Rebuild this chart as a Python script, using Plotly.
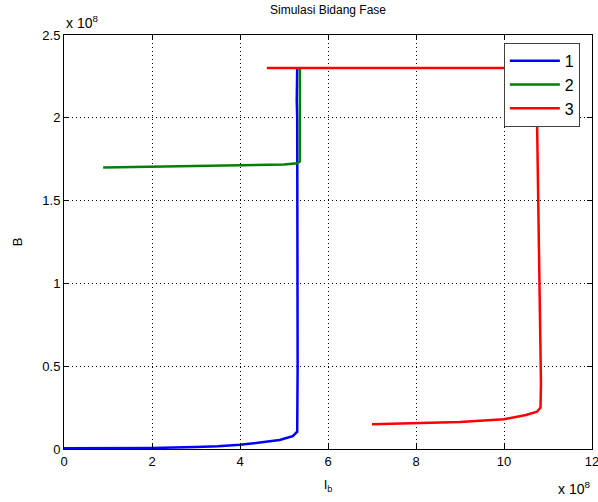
import plotly.graph_objects as go

# values in units of 1e8
blue_x = [0, 2, 3, 3.5, 4, 4.45, 4.9, 5.2, 5.3, 5.31, 5.31, 5.30, 5.29, 5.30, 5.30]
blue_y = [0.004, 0.006, 0.012, 0.016, 0.025, 0.038, 0.054, 0.078, 0.105, 0.5, 1.5, 2.0, 2.1, 2.2, 2.3]

green_x = [0.89, 2, 3, 4, 5, 5.3, 5.36, 5.36, 5.35, 5.36, 5.36]
green_y = [1.70, 1.705, 1.708, 1.712, 1.718, 1.725, 1.735, 1.9, 2.1, 2.2, 2.3]

red_x = [7.0, 8, 9, 10, 10.5, 10.75, 10.83, 10.84, 10.8, 10.77, 10.75, 10.75, 4.61]
red_y = [0.15, 0.155, 0.163, 0.18, 0.205, 0.225, 0.25, 0.4, 1.0, 1.6, 2.0, 2.3, 2.3]

x_ticks = [0, 2, 4, 6, 8, 10, 12]
y_ticks = [0, 0.5, 1, 1.5, 2, 2.5]
x_ticktext = ["0", "2", "4", "6", "8", "10", "12"]
y_ticktext = ["0", "0.5", "1", "1.5", "2", "2.5"]

FONT = "Liberation Sans, Arial, sans-serif"

fig = go.Figure()
fig.add_trace(go.Scatter(x=blue_x, y=blue_y, mode="lines", name="1",
                         line=dict(color="#0000ff", width=2.5)))
fig.add_trace(go.Scatter(x=green_x, y=green_y, mode="lines", name="2",
                         line=dict(color="#008000", width=2.5)))
fig.add_trace(go.Scatter(x=red_x, y=red_y, mode="lines", name="3",
                         line=dict(color="#ff0000", width=2.5)))

axis_common = dict(
    showline=True, linecolor="black", linewidth=1, mirror="ticks",
    ticks="inside", ticklen=5, tickcolor="black",
    showgrid=True, gridcolor="black", gridwidth=1, griddash="1px,3px",
    zeroline=False, tickfont=dict(family=FONT, size=13, color="black"),
    ticklabeloverflow="allow",
)

fig.update_xaxes(range=[0, 12], tickvals=x_ticks, ticktext=x_ticktext,
                 title=dict(text="I<sub>b</sub>", font=dict(family=FONT, size=13, color="black"),
                            standoff=12),
                 **axis_common)
fig.update_yaxes(range=[0, 2.5], tickvals=y_ticks, ticktext=y_ticktext,
                 title=dict(text="B", font=dict(family=FONT, size=13, color="black"),
                            standoff=16),
                 **axis_common)

fig.update_layout(
    width=598, height=502,
    margin=dict(l=64, r=6, t=35, b=53, autoexpand=False),
    plot_bgcolor="white", paper_bgcolor="white",
    title=dict(text="Simulasi Bidang Fase", x=0.5, xref="paper", y=0.988, yanchor="top",
               font=dict(family=FONT, size=12, color="black")),
    legend=dict(x=0.977, y=0.981, xanchor="right", yanchor="top",
                bgcolor="white", bordercolor="#404040", borderwidth=1,
                font=dict(family=FONT, size=16, color="black"),
                itemwidth=50, tracegroupgap=0),
    showlegend=True,
    annotations=[
        dict(text="x 10<sup>8</sup>", xref="paper", yref="paper", x=0, y=1,
             xanchor="left", yanchor="bottom", showarrow=False, yshift=2,
             font=dict(family=FONT, size=14, color="black")),
        dict(text="x 10<sup>8</sup>", xref="paper", yref="paper", x=1, y=0,
             xanchor="right", yanchor="top", showarrow=False, yshift=-28, xshift=0,
             font=dict(family=FONT, size=14, color="black")),
    ],
)

fig.write_html("out.html", config={"displayModeBar": False},
               post_script="document.body.style.margin='0';document.body.style.padding='0';")
